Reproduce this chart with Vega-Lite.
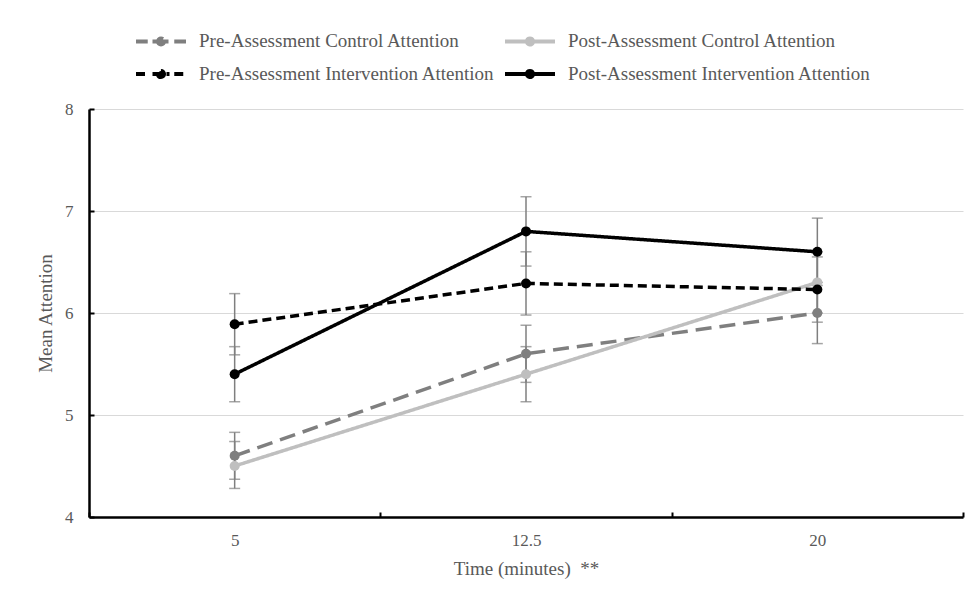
{
  "$schema": "https://vega.github.io/schema/vega-lite/v6.json",
  "width": 874,
  "height": 408,
  "autosize": {"type": "none"},
  "padding": {"left": 89, "top": 109, "right": 12, "bottom": 82},
  "background": "white",
  "config": {
    "view": {"stroke": null},
    "font": "Liberation Serif",
    "axis": {"labelFont": "Liberation Serif", "titleFont": "Liberation Serif", "labelColor": "#595959", "titleColor": "#595959", "labelFontSize": 17, "titleFontSize": 19, "titleFontWeight": "normal"},
    "legend": {"labelFont": "Liberation Serif", "labelFontSize": 19, "labelColor": "#595959", "labelLimit": 0}
  },
  "data": {
    "values": [
      {"series": "Pre-Assessment Control Attention", "time": "5", "mean": 4.6, "lo": 4.37, "hi": 4.83},
      {"series": "Pre-Assessment Control Attention", "time": "12.5", "mean": 5.6, "lo": 5.32, "hi": 5.88},
      {"series": "Pre-Assessment Control Attention", "time": "20", "mean": 6.0, "lo": 5.7, "hi": 6.3},
      {"series": "Post-Assessment Control Attention", "time": "5", "mean": 4.5, "lo": 4.28, "hi": 4.74},
      {"series": "Post-Assessment Control Attention", "time": "12.5", "mean": 5.4, "lo": 5.13, "hi": 5.67},
      {"series": "Post-Assessment Control Attention", "time": "20", "mean": 6.3, "lo": 6.0, "hi": 6.6},
      {"series": "Pre-Assessment Intervention Attention", "time": "5", "mean": 5.89, "lo": 5.59, "hi": 6.19},
      {"series": "Pre-Assessment Intervention Attention", "time": "12.5", "mean": 6.29, "lo": 5.98, "hi": 6.6},
      {"series": "Pre-Assessment Intervention Attention", "time": "20", "mean": 6.23, "lo": 5.91, "hi": 6.55},
      {"series": "Post-Assessment Intervention Attention", "time": "5", "mean": 5.4, "lo": 5.13, "hi": 5.67},
      {"series": "Post-Assessment Intervention Attention", "time": "12.5", "mean": 6.8, "lo": 6.46, "hi": 7.14},
      {"series": "Post-Assessment Intervention Attention", "time": "20", "mean": 6.6, "lo": 6.27, "hi": 6.93}
    ]
  },
  "encoding": {
    "x": {
      "field": "time",
      "type": "ordinal",
      "sort": ["5", "12.5", "20"],
      "scale": {"type": "band", "paddingInner": 0, "paddingOuter": 0},
      "axis": {
        "title": "Time (minutes) \u00a0**",
        "labelAngle": 0,
        "tickBand": "extent",
        "grid": false,
        "domainColor": "#000000",
        "domainWidth": 2.5,
        "tickColor": "#000000",
        "tickWidth": 2,
        "tickSize": -5,
        "labelPadding": 20,
        "titlePadding": 11
      }
    }
  },
  "layer": [
    {
      "mark": {"type": "rule", "color": "#7f7f7f", "strokeWidth": 1.5},
      "encoding": {
        "y": {"field": "lo", "type": "quantitative", "scale": {"domain": [4, 8], "nice": false, "zero": false}},
        "y2": {"field": "hi"}
      }
    },
    {
      "mark": {"type": "tick", "color": "#7f7f7f", "thickness": 1.5, "size": 11, "orient": "horizontal"},
      "encoding": {"y": {"field": "lo", "type": "quantitative", "scale": {"domain": [4, 8], "nice": false, "zero": false}}}
    },
    {
      "mark": {"type": "tick", "color": "#7f7f7f", "thickness": 1.5, "size": 11, "orient": "horizontal"},
      "encoding": {"y": {"field": "hi", "type": "quantitative", "scale": {"domain": [4, 8], "nice": false, "zero": false}}}
    },
    {
      "mark": {"type": "line", "strokeWidth": 3.5},
      "encoding": {
        "y": {
          "field": "mean",
          "type": "quantitative",
          "scale": {"domain": [4, 8], "nice": false, "zero": false},
          "axis": {
            "title": "Mean Attention",
            "values": [4, 5, 6, 7, 8],
            "format": "d",
            "grid": true,
            "gridColor": "#d9d9d9",
            "gridWidth": 1,
            "domainColor": "#000000",
            "domainWidth": 2.5,
            "tickColor": "#000000",
            "tickWidth": 2,
            "tickSize": -5,
            "labelPadding": 21,
            "titlePadding": 9
          }
        },
        "color": {
          "field": "series",
          "type": "nominal",
          "scale": {
            "domain": ["Pre-Assessment Control Attention", "Post-Assessment Control Attention", "Pre-Assessment Intervention Attention", "Post-Assessment Intervention Attention"],
            "range": ["#7f7f7f", "#bfbfbf", "#000000", "#000000"]
          },
          "legend": {
            "title": null,
            "orient": "none",
            "legendX": 53,
            "legendY": -87,
            "direction": "horizontal",
            "columns": 2,
            "columnPadding": 2,
            "rowPadding": 2,
            "symbolSize": 1156,
            "symbolStrokeWidth": 4,
            "labelOffset": 19,
            "encode": {
              "symbols": {
                "update": {
                  "shape": {"signal": "indexof(datum.value, 'Pre') === 0 ? 'M-1.47,0H-0.78M-0.5,0H0.5M0.78,0H1.47M0.18,0A0.18,0.18 0 1,1 -0.18,0A0.18,0.18 0 1,1 0.18,0' : 'M-1.47,0H1.47M0.18,0A0.18,0.18 0 1,1 -0.18,0A0.18,0.18 0 1,1 0.18,0'"},
                  "stroke": {"scale": "color", "field": "value"},
                  "fill": {"value": "transparent"},
                  "strokeDash": {"value": []},
                  "strokeWidth": {"value": 4},
                  "opacity": {"value": 1}
                }
              }
            }
          }
        },
        "strokeDash": {
          "field": "series",
          "type": "nominal",
          "scale": {
            "domain": ["Pre-Assessment Control Attention", "Post-Assessment Control Attention", "Pre-Assessment Intervention Attention", "Post-Assessment Intervention Attention"],
            "range": [[16, 8], [1, 0], [9, 5], [1, 0]]
          },
          "legend": null
        }
      }
    },
    {
      "mark": {"type": "point", "filled": true, "shape": "circle", "size": 100, "opacity": 1},
      "encoding": {
        "y": {"field": "mean", "type": "quantitative", "scale": {"domain": [4, 8], "nice": false, "zero": false}},
        "color": {"field": "series", "type": "nominal"}
      }
    }
  ]
}
